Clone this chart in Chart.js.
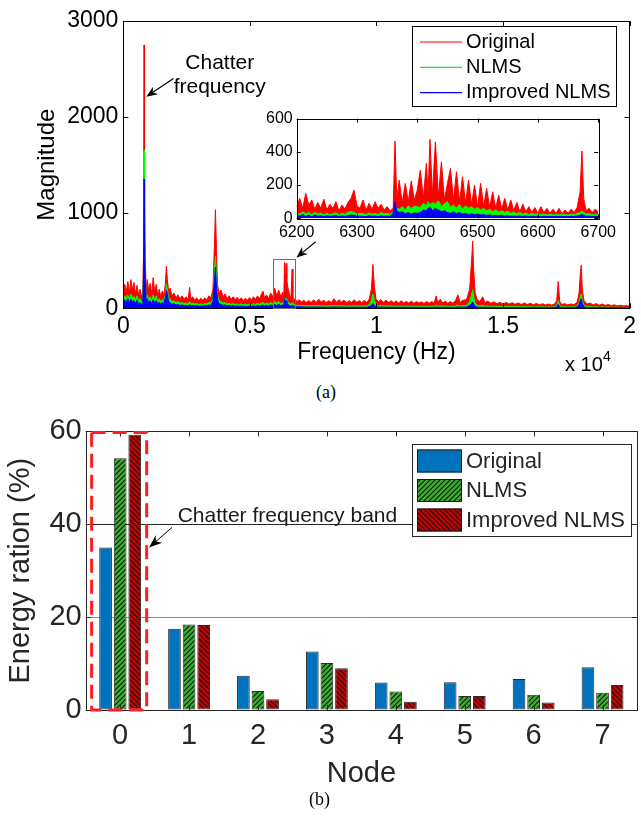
<!DOCTYPE html>
<html>
<head>
<meta charset="utf-8">
<script src="https://cdn.jsdelivr.net/npm/chart.js@4.4.1/dist/chart.umd.min.js"></script>
<style>
  body { margin: 0; background: #fff; }
  #wrap { position: relative; width: 641px; height: 817px; }
  #spectrum { position: absolute; left: 0; top: 0; }
  #zoomed { position: absolute; left: 257px; top: 105px; }
  #energy { position: absolute; left: 0; top: 410px; }
  .cap { position: absolute; font-family: "Liberation Serif", "DejaVu Serif", serif; font-size: 18px; color: #000; }
</style>
</head>
<body>
<div id="wrap">
  <canvas id="spectrum" width="641" height="380"></canvas>
  <canvas id="zoomed" width="364" height="140"></canvas>
  <canvas id="energy" width="641" height="395"></canvas>
  <div class="cap" style="left:316px;top:382px">(a)</div>
  <div class="cap" style="left:309px;top:789px">(b)</div>
</div>
<script>
// ---- spectrum, full band (Hz / magnitude) ----
const freqHz = [
  0, 60, 120, 180, 240, 300, 360, 420, 480, 540, 600, 660, 720, 770, 800, 820, 840, 870, 900, 950,
  1000, 1060, 1120, 1180, 1240, 1300, 1360, 1420, 1480, 1540, 1600, 1660, 1700, 1740, 1790, 1850, 1920, 2000, 2080, 2160,
  2240, 2320, 2400, 2480, 2560, 2620, 2660, 2740, 2820, 2900, 2980, 3060, 3140, 3220, 3300, 3380, 3460, 3540, 3600, 3640,
  3680, 3720, 3780, 3860, 3940, 4020, 4100, 4180, 4260, 4340, 4420, 4500, 4580, 4660, 4740, 4820, 4900, 4980, 5060, 5140,
  5220, 5300, 5380, 5460, 5520, 5580, 5660, 5740, 5820, 5900, 5980, 6060, 6140, 6220, 6300, 6340, 6370, 6400, 6430, 6460,
  6500, 6560, 6620, 6670, 6700, 6780, 6860, 6950, 7040, 7130, 7220, 7320, 7420, 7520, 7620, 7720, 7820, 7920, 8020, 8120,
  8220, 8320, 8420, 8520, 8620, 8720, 8820, 8920, 9020, 9120, 9220, 9320, 9420, 9520, 9620, 9720, 9800, 9860, 9920, 9980,
  10080, 10180, 10280, 10380, 10480, 10580, 10680, 10780, 10880, 10980, 11080, 11180, 11280, 11380, 11480, 11580, 11680, 11780, 11880, 11980,
  12080, 12180, 12280, 12360, 12420, 12520, 12620, 12720, 12820, 12920, 13020, 13120, 13220, 13300, 13420, 13560, 13680, 13760, 13800, 13840,
  13900, 13980, 14080, 14200, 14280, 14400, 14520, 14640, 14760, 14880, 15000, 15120, 15240, 15360, 15480, 15600, 15720, 15840, 15960, 16080,
  16200, 16320, 16440, 16560, 16680, 16800, 16920, 17040, 17120, 17180, 17240, 17320, 17440, 17560, 17680, 17800, 17920, 18000, 18060, 18090,
  18130, 18200, 18320, 18440, 18560, 18680, 18800, 18920, 19040, 19160, 19280, 19400, 19520, 19640, 19760, 19880, 20000
];
const magOriginal = [
  180, 250, 170, 280, 160, 300, 190, 270, 150, 240, 140, 200, 120, 160, 600, 2750, 1100, 500, 200, 300,
  180, 260, 150, 320, 170, 250, 140, 200, 120, 180, 140, 250, 440, 300, 180, 210, 130, 160, 110, 140,
  100, 130, 95, 120, 90, 220, 100, 120, 85, 110, 80, 105, 85, 110, 90, 130, 110, 200, 650, 1030,
  600, 250, 160, 190, 120, 150, 100, 130, 95, 120, 90, 115, 85, 110, 80, 105, 85, 110, 90, 120,
  95, 130, 100, 150, 180, 110, 140, 100, 160, 120, 210, 130, 190, 120, 170, 110, 480, 260, 470, 300,
  220, 150, 90, 410, 80, 100, 70, 90, 65, 85, 60, 80, 62, 88, 60, 95, 65, 85, 58, 80,
  60, 100, 62, 90, 65, 85, 58, 80, 60, 90, 62, 80, 58, 85, 60, 100, 200, 458, 220, 100,
  70, 90, 62, 85, 60, 80, 58, 75, 56, 78, 55, 72, 54, 75, 52, 70, 55, 68, 50, 72,
  52, 70, 55, 130, 60, 95, 55, 75, 52, 70, 55, 80, 140, 60, 85, 90, 200, 500, 700, 400,
  160, 90, 70, 120, 60, 75, 52, 68, 48, 62, 45, 60, 44, 58, 42, 56, 40, 55, 40, 52,
  38, 50, 36, 48, 35, 45, 34, 45, 80, 280, 70, 40, 48, 35, 45, 38, 60, 150, 380, 450,
  200, 80, 45, 55, 35, 50, 32, 45, 30, 40, 28, 36, 25, 32, 24, 28, 22
];
const magNLMS = [
  110, 130, 100, 140, 90, 150, 110, 120, 90, 130, 80, 100, 70, 90, 400, 1650, 700, 350, 120, 140,
  90, 120, 80, 140, 90, 130, 70, 100, 70, 90, 80, 140, 250, 200, 110, 100, 70, 80, 60, 70,
  55, 60, 50, 55, 45, 70, 50, 55, 45, 50, 40, 45, 40, 50, 45, 60, 55, 100, 400, 540,
  300, 130, 80, 70, 55, 60, 45, 55, 40, 50, 40, 45, 38, 45, 35, 42, 36, 45, 38, 48,
  40, 50, 42, 55, 60, 48, 55, 45, 60, 50, 70, 55, 70, 50, 60, 45, 110, 90, 100, 90,
  70, 55, 40, 60, 35, 38, 30, 32, 28, 30, 26, 28, 25, 30, 24, 30, 25, 28, 23, 27,
  24, 30, 24, 28, 25, 27, 22, 26, 23, 28, 24, 26, 22, 27, 24, 40, 80, 150, 80, 40,
  26, 28, 24, 27, 23, 26, 22, 25, 22, 25, 21, 24, 21, 24, 20, 23, 21, 22, 20, 23,
  20, 22, 21, 35, 22, 28, 21, 24, 20, 22, 21, 25, 35, 22, 28, 30, 70, 140, 190, 120,
  55, 30, 25, 32, 22, 24, 20, 22, 18, 20, 17, 20, 17, 19, 16, 18, 15, 18, 15, 17,
  14, 17, 14, 16, 13, 15, 13, 16, 30, 80, 28, 15, 16, 13, 15, 14, 25, 60, 130, 150,
  80, 30, 16, 18, 13, 17, 12, 15, 11, 14, 10, 12, 10, 11, 9, 10, 9
];
const magImproved = [
  70, 90, 60, 100, 55, 95, 70, 80, 50, 85, 45, 60, 40, 60, 350, 1350, 600, 300, 90, 100,
  60, 80, 50, 90, 60, 80, 50, 60, 45, 60, 50, 110, 190, 150, 70, 60, 40, 50, 35, 40,
  30, 35, 28, 30, 25, 40, 28, 30, 25, 28, 22, 25, 22, 28, 25, 35, 30, 70, 300, 430,
  220, 90, 50, 40, 30, 35, 25, 30, 22, 28, 20, 25, 20, 24, 18, 22, 18, 24, 20, 26,
  20, 28, 22, 30, 32, 25, 30, 24, 35, 28, 40, 30, 40, 28, 35, 25, 100, 60, 80, 55,
  40, 30, 20, 30, 18, 20, 15, 16, 14, 15, 12, 14, 12, 14, 11, 14, 12, 13, 10, 12,
  11, 14, 11, 13, 12, 12, 10, 12, 11, 13, 11, 12, 10, 12, 11, 18, 30, 50, 30, 16,
  12, 13, 11, 12, 10, 12, 10, 11, 10, 11, 10, 11, 10, 11, 9, 10, 10, 10, 9, 10,
  9, 10, 9, 14, 10, 12, 9, 10, 9, 10, 9, 11, 14, 10, 12, 14, 30, 50, 65, 45,
  22, 12, 11, 12, 10, 10, 9, 10, 8, 9, 8, 9, 8, 8, 7, 8, 7, 8, 7, 8,
  7, 8, 6, 7, 6, 7, 6, 7, 14, 40, 12, 7, 7, 6, 7, 7, 14, 35, 85, 100,
  50, 16, 7, 8, 6, 7, 6, 7, 5, 6, 5, 6, 5, 5, 4, 5, 4
];
const freqTicks = [0, 5000, 10000, 15000, 20000];
const freqTickLabels = ['0', '0.5', '1', '1.5', '2'];
const magTicks = [0, 1000, 2000, 3000];

// ---- spectrum, 6200-6700 Hz detail ----
const zoomHz = [
  6200, 6205, 6210, 6215, 6220, 6225, 6230, 6235, 6240, 6245,
  6250, 6255, 6260, 6265, 6270, 6275, 6280, 6285, 6290, 6295,
  6300, 6305, 6310, 6315, 6320, 6325, 6330, 6335, 6340, 6345,
  6350, 6355, 6360, 6363, 6366, 6370, 6375, 6380, 6385, 6390, 6395,
  6400, 6405, 6410, 6415, 6418, 6421, 6425, 6430, 6435, 6440, 6445,
  6450, 6455, 6460, 6465, 6470, 6475, 6480, 6485, 6490, 6495,
  6500, 6505, 6510, 6515, 6520, 6525, 6530, 6535, 6540, 6545,
  6550, 6555, 6560, 6565, 6570, 6575, 6580, 6585, 6590, 6595,
  6600, 6605, 6610, 6615, 6620, 6625, 6630, 6635, 6640, 6645,
  6650, 6655, 6660, 6665, 6670, 6673, 6676, 6680, 6685, 6690, 6695,
  6700
];
const zoomOriginal = [
  70, 120, 60, 150, 80, 110, 55, 95, 60, 115,
  50, 85, 60, 100, 45, 80, 55, 95, 120, 170,
  75, 60, 110, 50, 90, 55, 100, 60, 85, 50,
  70, 45, 60, 465, 110, 230, 90, 210, 100, 225, 110,
  170, 290, 120, 330, 150, 475, 140, 460, 130, 340, 110,
  210, 300, 110, 280, 100, 250, 90, 230, 80, 200,
  70, 210, 70, 180, 65, 160, 60, 140, 55, 120,
  50, 110, 45, 95, 40, 85, 40, 70, 35, 65,
  30, 70, 35, 60, 30, 55, 30, 60, 28, 50,
  30, 55, 35, 65, 160, 405, 120, 45, 60, 35, 55,
  40
];
const zoomNLMS = [
  35, 25, 40, 28, 35, 22, 38, 25, 32, 20,
  30, 22, 28, 35, 20, 30, 25, 38, 40, 35,
  25, 30, 28, 22, 32, 25, 30, 22, 35, 28,
  30, 25, 40, 80, 60, 55, 70, 50, 75, 60, 72,
  70, 65, 90, 75, 100, 80, 95, 85, 105, 70, 88,
  100, 65, 80, 60, 85, 55, 75, 60, 70, 55,
  65, 50, 60, 45, 55, 40, 50, 38, 45, 35,
  42, 30, 38, 28, 35, 25, 32, 22, 30, 25,
  28, 22, 26, 20, 25, 20, 24, 20, 25, 22,
  20, 25, 22, 30, 35, 45, 35, 25, 28, 22, 25,
  20
];
const zoomImproved = [
  20, 15, 22, 12, 18, 10, 20, 12, 16, 10,
  15, 12, 14, 18, 10, 15, 12, 16, 20, 18,
  12, 14, 12, 10, 15, 12, 14, 10, 15, 12,
  14, 12, 30, 100, 45, 35, 40, 28, 35, 25, 32,
  30, 35, 50, 45, 60, 70, 45, 60, 50, 40, 45,
  35, 30, 40, 28, 35, 25, 30, 22, 28, 22,
  25, 20, 22, 18, 20, 16, 18, 15, 16, 14,
  15, 13, 14, 12, 14, 12, 13, 11, 12, 11,
  12, 10, 12, 10, 11, 10, 12, 10, 11, 10,
  10, 12, 11, 15, 18, 25, 18, 12, 13, 10, 12,
  10
];
const zoomTicks = [6200, 6300, 6400, 6500, 6600, 6700];
const zoomMagTicks = [0, 200, 400, 600];

// ---- energy ratio per node (%) ----
const nodes = ['0', '1', '2', '3', '4', '5', '6', '7'];
const energyOriginal = [35.0, 17.5, 7.4, 12.6, 5.9, 6.0, 6.7, 9.2];
const energyNLMS = [54.2, 18.4, 4.1, 10.1, 4.0, 3.0, 3.3, 3.7];
const energyImproved = [59.3, 18.3, 2.3, 9.0, 1.8, 3.0, 1.6, 5.4];
const energyTicks = [0, 20, 40, 60];

const SANS = '"Liberation Sans", Arial, Helvetica, sans-serif';
const seriesNames = ['Original', 'NLMS', 'Improved NLMS'];
const lineColors = ['#ff0000', '#00ff00', '#0000ff'];

function arrow(ctx, x1, y1, x2, y2, len, half) {
  const a = Math.atan2(y2 - y1, x2 - x1), c = Math.cos(a), s = Math.sin(a);
  ctx.beginPath();
  ctx.moveTo(x1, y1);
  ctx.lineTo(x2 - c * len * 0.6, y2 - s * len * 0.6);
  ctx.stroke();
  ctx.beginPath();
  ctx.moveTo(x2, y2);
  ctx.lineTo(x2 - len * c + half * s, y2 - len * s - half * c);
  ctx.lineTo(x2 - 0.7 * len * c, y2 - 0.7 * len * s);
  ctx.lineTo(x2 - len * c - half * s, y2 - len * s + half * c);
  ctx.closePath();
  ctx.fill();
}

// box around the plot area with inward tick marks on all four sides
const frame = {
  id: 'frame',
  afterDatasetsDraw(chart, args, opts) {
    const {ctx, chartArea: a, scales: {x, y}} = chart;
    const L = opts.tick;
    ctx.save();
    ctx.strokeStyle = opts.color;
    ctx.lineWidth = 1;
    ctx.beginPath();
    x.ticks.forEach((t, i) => {
      const px = Math.round(x.getPixelForTick(i)) + 0.5;
      ctx.moveTo(px, a.top); ctx.lineTo(px, a.top + L);
      ctx.moveTo(px, a.bottom); ctx.lineTo(px, a.bottom - L);
    });
    y.ticks.forEach((t, i) => {
      const py = Math.round(y.getPixelForTick(i)) + 0.5;
      ctx.moveTo(a.left, py); ctx.lineTo(a.left + L, py);
      ctx.moveTo(a.right, py); ctx.lineTo(a.right - L, py);
    });
    ctx.stroke();
    ctx.strokeRect(Math.round(a.left) + 0.5, Math.round(a.top) + 0.5,
      Math.round(a.right - a.left), Math.round(a.bottom - a.top));
    ctx.restore();
  }
};

function lineSet(label, xs, ys, i) {
  return {
    label: label,
    data: xs.map((f, k) => ({x: f, y: ys[k]})),
    borderColor: lineColors[i],
    backgroundColor: lineColors[i],
    borderWidth: 1,
    pointRadius: 0,
    tension: 0,
    fill: 'origin',
    order: 3 - i
  };
}

// annotations on the full-band spectrum
const spectrumNotes = {
  id: 'spectrumNotes',
  afterDraw(chart) {
    const {ctx, scales: {x, y}} = chart;
    ctx.save();
    // window shown in the detail plot
    ctx.strokeStyle = '#707070';
    ctx.lineWidth = 1;
    const bx0 = x.getPixelForValue(5930), bx1 = x.getPixelForValue(6800);
    const by0 = y.getPixelForValue(510), by1 = y.getPixelForValue(0);
    ctx.strokeRect(Math.round(bx0) + 0.5, Math.round(by0) + 0.5, Math.round(bx1 - bx0), Math.round(by1 - by0));

    ctx.strokeStyle = '#000';
    ctx.fillStyle = '#000';
    ctx.lineWidth = 1.2;
    arrow(ctx, x.getPixelForValue(1980), y.getPixelForValue(2400), x.getPixelForValue(910), y.getPixelForValue(2210), 11, 4.5);
    arrow(ctx, x.getPixelForValue(7600), y.getPixelForValue(695), x.getPixelForValue(6840), y.getPixelForValue(530), 11, 4.5);

    ctx.font = '21px ' + SANS;
    ctx.textAlign = 'center';
    ctx.textBaseline = 'alphabetic';
    ctx.fillText('Chatter', x.getPixelForValue(3810), y.getPixelForValue(2500));
    ctx.fillText('frequency', x.getPixelForValue(3810), y.getPixelForValue(2250));

    // exponent of the frequency axis
    ctx.textAlign = 'left';
    ctx.font = '20px ' + SANS;
    ctx.fillText('x 10', 565, 371);
    ctx.font = '14px ' + SANS;
    ctx.fillText('4', 603, 361);

    // legend
    ctx.fillStyle = '#fff';
    ctx.fillRect(412, 26, 204, 80);
    ctx.strokeStyle = '#000';
    ctx.lineWidth = 1;
    ctx.strokeRect(412.5, 26.5, 204, 80);
    ctx.font = '20px ' + SANS;
    ctx.textBaseline = 'middle';
    chart.data.datasets.forEach((ds, i) => {
      const ly = 42 + i * 25.3;
      ctx.strokeStyle = ds.borderColor;
      ctx.lineWidth = 1.2;
      ctx.beginPath();
      ctx.moveTo(420, ly); ctx.lineTo(462, ly);
      ctx.stroke();
      ctx.fillStyle = '#000';
      ctx.fillText(ds.label, 466, ly);
    });
    ctx.restore();
  }
};

new Chart(document.getElementById('spectrum'), {
  type: 'line',
  data: {
    datasets: [
      lineSet(seriesNames[0], freqHz, magOriginal, 0),
      lineSet(seriesNames[1], freqHz, magNLMS, 1),
      lineSet(seriesNames[2], freqHz, magImproved, 2)
    ]
  },
  options: {
    responsive: false,
    animation: false,
    events: [],
    layout: {padding: {left: 0, right: 5, top: 21, bottom: 0}},
    plugins: {
      legend: {display: false},
      tooltip: {enabled: false},
      frame: {color: '#000', tick: 5}
    },
    scales: {
      x: {
        type: 'linear',
        min: 0,
        max: 20000,
        afterBuildTicks: s => { s.ticks = freqTicks.map(v => ({value: v})); },
        afterFit: s => { s.height = 71.7; },
        grid: {display: false, drawTicks: false},
        border: {display: false},
        ticks: {
          font: {family: SANS, size: 23},
          color: '#000',
          padding: 5,
          maxRotation: 0,
          callback: (v, i) => freqTickLabels[i]
        },
        title: {display: true, text: 'Frequency (Hz)', color: '#000',
          font: {family: SANS, size: 23}, padding: {top: 0, bottom: 14}}
      },
      y: {
        min: 0,
        max: 3000,
        afterBuildTicks: s => { s.ticks = magTicks.map(v => ({value: v})); },
        afterFit: s => { s.width = 123.3; },
        grid: {display: false, drawTicks: false},
        border: {display: false},
        ticks: {font: {family: SANS, size: 23}, color: '#000', padding: 5, callback: v => String(v)},
        title: {display: true, text: 'Magnitude', color: '#000',
          font: {family: SANS, size: 24}, padding: {top: 33, bottom: 0}}
      }
    }
  },
  plugins: [frame, spectrumNotes]
});

// white backing for the detail plot
const whiteArea = {
  id: 'whiteArea',
  beforeDatasetsDraw(chart) {
    const {ctx, chartArea: a} = chart;
    ctx.save();
    ctx.fillStyle = '#fff';
    ctx.fillRect(a.left, a.top, a.right - a.left, a.bottom - a.top);
    ctx.restore();
  }
};

new Chart(document.getElementById('zoomed'), {
  type: 'line',
  data: {
    datasets: [
      lineSet(seriesNames[0], zoomHz, zoomOriginal, 0),
      lineSet(seriesNames[1], zoomHz, zoomNLMS, 1),
      lineSet(seriesNames[2], zoomHz, zoomImproved, 2)
    ]
  },
  options: {
    responsive: false,
    animation: false,
    events: [],
    layout: {padding: {left: 0, right: 5, top: 7.7, bottom: 0}},
    plugins: {
      legend: {display: false},
      tooltip: {enabled: false},
      frame: {color: '#000', tick: 4}
    },
    scales: {
      x: {
        type: 'linear',
        min: 6200,
        max: 6700,
        afterBuildTicks: s => { s.ticks = zoomTicks.map(v => ({value: v})); },
        afterFit: s => { s.height = 26.7; },
        grid: {display: false, drawTicks: false},
        border: {display: false},
        ticks: {font: {family: SANS, size: 16}, color: '#000', padding: 5, maxRotation: 0,
          callback: v => String(v)}
      },
      y: {
        min: 0,
        max: 600,
        afterBuildTicks: s => { s.ticks = zoomMagTicks.map(v => ({value: v})); },
        afterFit: s => { s.width = 39.7; },
        grid: {display: false, drawTicks: false},
        border: {display: false},
        ticks: {font: {family: SANS, size: 16}, color: '#000', padding: 4, callback: v => String(v)}
      }
    }
  },
  plugins: [whiteArea, frame]
});

// diagonal hatch fills for the bar series
function hatch(base, slope) {
  const s = 5;
  const c = document.createElement('canvas');
  c.width = c.height = s;
  const g = c.getContext('2d');
  g.fillStyle = base;
  g.fillRect(0, 0, s, s);
  g.strokeStyle = '#141414';
  g.lineWidth = 1.1;
  g.beginPath();
  if (slope > 0) {
    g.moveTo(-1, s + 1); g.lineTo(s + 1, -1);
    g.moveTo(-1, 1); g.lineTo(1, -1);
    g.moveTo(s - 1, s + 1); g.lineTo(s + 1, s - 1);
  } else {
    g.moveTo(-1, -1); g.lineTo(s + 1, s + 1);
    g.moveTo(s - 1, -1); g.lineTo(s + 1, 1);
    g.moveTo(-1, s - 1); g.lineTo(1, s + 1);
  }
  g.stroke();
  return g.createPattern(c, 'repeat');
}

const barFills = ['#0072bd', hatch('#36b02a', 1), hatch('#c40000', -1)];

// chatter band marker, callout and legend for the energy chart
const energyNotes = {
  id: 'energyNotes',
  afterDraw(chart) {
    const {ctx, scales: {x, y}} = chart;
    const c0 = x.getPixelForValue(0), step = x.getPixelForValue(1) - c0;
    const cx = f => c0 + f * step;
    ctx.save();
    ctx.strokeStyle = '#ff1f1f';
    ctx.lineWidth = 3;
    ctx.setLineDash([14, 7]);
    const rx0 = cx(-0.414), rx1 = cx(0.385), ry0 = y.getPixelForValue(60) + 1, ry1 = y.getPixelForValue(0);
    ctx.strokeRect(rx0, ry0, rx1 - rx0, ry1 - ry0);
    ctx.setLineDash([]);

    ctx.strokeStyle = '#000';
    ctx.fillStyle = '#000';
    ctx.lineWidth = 1;
    arrow(ctx, cx(0.75), y.getPixelForValue(39.3), cx(0.42), y.getPixelForValue(35), 13, 5);
    ctx.font = '21px ' + SANS;
    ctx.fillStyle = '#1a1a1a';
    ctx.textAlign = 'left';
    ctx.textBaseline = 'alphabetic';
    ctx.fillText('Chatter frequency band', cx(0.835), y.getPixelForValue(40.4));

    // legend
    ctx.fillStyle = '#fff';
    ctx.fillRect(412, 34, 220, 93);
    ctx.strokeStyle = '#262626';
    ctx.strokeRect(412.5, 34.5, 219, 92);
    ctx.font = '22px ' + SANS;
    ctx.textBaseline = 'middle';
    chart.data.datasets.forEach((ds, i) => {
      const top = 39.5 + i * 29.5;
      ctx.fillStyle = ds.backgroundColor;
      ctx.fillRect(417, top, 45, 23);
      ctx.strokeStyle = '#1a1a1a';
      ctx.strokeRect(417.5, top + 0.5, 44, 22);
      ctx.fillStyle = '#262626';
      ctx.fillText(ds.label, 466, top + 12);
    });
    ctx.restore();
  }
};

new Chart(document.getElementById('energy'), {
  type: 'bar',
  data: {
    labels: nodes,
    datasets: [
      {label: seriesNames[0], data: energyOriginal, backgroundColor: barFills[0]},
      {label: seriesNames[1], data: energyNLMS, backgroundColor: barFills[1]},
      {label: seriesNames[2], data: energyImproved, backgroundColor: barFills[2]}
    ]
  },
  options: {
    responsive: false,
    animation: false,
    events: [],
    categoryPercentage: 0.635,
    barPercentage: 0.87,
    borderColor: '#2b2b2b',
    borderWidth: 1,
    borderSkipped: false,
    layout: {padding: {left: 0, right: 4, top: 16.7, bottom: 0}},
    plugins: {
      legend: {display: false},
      tooltip: {enabled: false},
      frame: {color: '#262626', tick: 5}
    },
    scales: {
      x: {
        afterFit: s => { s.height = 95; },
        grid: {display: false, drawTicks: false},
        border: {display: false},
        ticks: {font: {family: SANS, size: 29}, color: '#262626', padding: 9},
        title: {display: true, text: 'Node', color: '#262626',
          font: {family: SANS, size: 29}, padding: {top: 0, bottom: 14}}
      },
      y: {
        min: 0,
        max: 60,
        afterBuildTicks: s => { s.ticks = energyTicks.map(v => ({value: v})); },
        afterFit: s => { s.width = 85.7; },
        grid: {
          drawTicks: false,
          color: c => c.tick.value === 40 ? '#262626' : (c.tick.value === 20 ? '#8a8a8a' : 'rgba(0,0,0,0)')
        },
        border: {display: false},
        ticks: {font: {family: SANS, size: 29}, color: '#262626', padding: 4},
        title: {display: true, text: 'Energy ration (%)', color: '#262626',
          font: {family: SANS, size: 29}, padding: {top: 4, bottom: 0}}
      }
    }
  },
  plugins: [frame, energyNotes]
});
</script>
</body>
</html>
